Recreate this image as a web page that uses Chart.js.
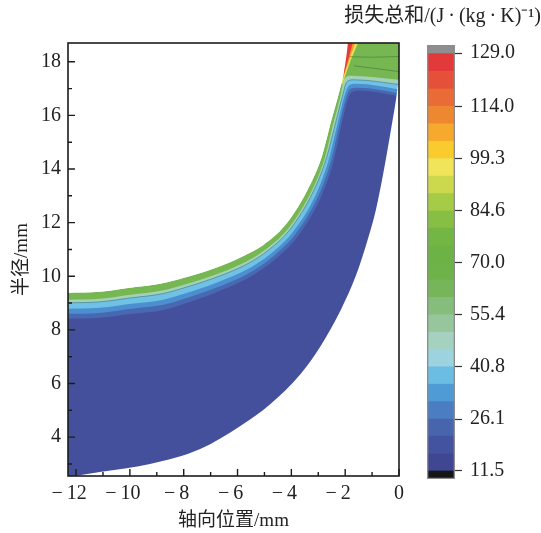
<!DOCTYPE html>
<html><head><meta charset="utf-8">
<script src="https://cdn.jsdelivr.net/npm/chart.js@4.4.1/dist/chart.umd.min.js"></script>
<style>
html,body{margin:0;padding:0;background:#fff;}
#wrap{position:relative;width:541px;height:533px;background:#fff;}
#wrap canvas{position:absolute;left:0;top:0;}
</style></head><body>
<div id="wrap"><canvas id="main" width="541" height="533"></canvas><canvas id="cbar" width="541" height="533"></canvas></div>
<script>
// ---------- axis ticks ----------
const xTicks = [-12, -10, -8, -6, -4, -2, 0];
const xTickLabels = ['\u2212\u200912\u2002\u2009', '\u2212\u200910\u2002\u2009', '\u2212\u20098\u2002\u2009', '\u2212\u20096\u2002\u2009', '\u2212\u20094\u2002\u2009', '\u2212\u20092\u2002\u2009', '0'];
const xMinor = [-11, -9, -7, -5, -3, -1];
const yTicks = [4, 6, 8, 10, 12, 14, 16, 18];
const yTickLabels = ['4', '6', '8', '10', '12', '14', '16', '18'];
const yMinor = [3, 5, 7, 9, 11, 13, 15, 17];

// ---------- contour boundaries (axial mm, radius mm) ----------
const shroudX = [-12.35, -11.12, -10.00, -8.88, -7.99, -7.01, -5.78, -5.04, -4.25, -3.40, -2.87, -2.54, -2.20, -2.05, -1.90, -1.86, 0.2];
const shroudY = [9.38, 9.42, 9.57, 9.72, 9.94, 10.24, 10.76, 11.17, 11.88, 13.22, 14.46, 15.72, 16.96, 17.59, 18.71, 19.3, 19.3];
const bX = [-12.35, -11.119, -9.974, -8.843, -7.922, -6.944, -5.690, -4.925, -4.119, -3.257, -2.761, -2.444, -2.164, -2.052, -1.791, 0.2];
const bY = [9.119, 9.157, 9.306, 9.455, 9.698, 10.015, 10.537, 11.023, 11.780, 13.164, 14.399, 15.687, 16.769, 17.328, 17.478, 17.31];
const cX = [-12.35, -11.119, -9.963, -8.825, -7.896, -6.914, -5.649, -4.877, -4.060, -3.198, -2.705, -2.369, -2.090, -1.940, -1.679, 0.2];
const cY = [9.007, 9.045, 9.194, 9.343, 9.597, 9.918, 10.455, 10.956, 11.735, 13.138, 14.381, 15.668, 16.769, 17.254, 17.328, 17.13];
const dX = [-12.35, -11.119, -9.940, -8.791, -7.843, -6.854, -5.567, -4.780, -3.944, -3.075, -2.612, -2.295, -2.015, -1.866, -1.604, 0.2];
const dY = [8.784, 8.821, 8.970, 9.119, 9.392, 9.727, 10.295, 10.829, 11.649, 13.075, 14.343, 15.649, 16.769, 17.104, 17.179, 16.94];
const eX = [-12.35, -11.119, -9.922, -8.761, -7.799, -6.802, -5.500, -4.698, -3.847, -2.978, -2.519, -2.220, -1.940, -1.791, -1.530, 0.2];
const eY = [8.597, 8.634, 8.784, 8.933, 9.216, 9.567, 10.161, 10.721, 11.575, 13.037, 14.325, 15.631, 16.731, 16.993, 17.030, 16.79];
const fX = [-12.35, -11.119, -9.903, -8.735, -7.754, -6.754, -5.433, -4.619, -3.750, -2.877, -2.425, -2.146, -1.866, -1.716, -1.455, 0.2];
const fY = [8.410, 8.448, 8.597, 8.746, 9.045, 9.410, 10.026, 10.612, 11.504, 13.000, 14.306, 15.612, 16.694, 16.881, 16.918, 16.68];
const hubX = [-12.388, -12.052, -11.119, -9.254, -7.388, -5.896, -4.776, -3.657, -2.910, -2.164, -1.604, -1.231, -0.858, -0.560, -0.299, -0.112, -0.037, 0.3];
const hubY = [2.478, 2.552, 2.701, 3.000, 3.560, 4.418, 5.239, 6.358, 7.403, 8.746, 10.015, 11.134, 12.478, 13.970, 15.463, 16.582, 17.142, 19.3];
const s1X = [-2.07, -1.88, -1.72, -1.70];
const s1Y = [17.45, 18.10, 18.71, 19.3];
const s2X = [-2.10, -1.84, -1.62, -1.60];
const s2Y = [17.30, 18.10, 18.71, 19.3];
const s3X = [-2.13, -1.80, -1.52, -1.50];
const s3Y = [17.10, 18.05, 18.71, 19.3];
const g1X = [-1.85, -1.0, 0.1];
const g1Y = [18.19, 18.17, 18.20];
const g2X = [-1.68, -0.8, 0.1];
const g2Y = [17.85, 17.74, 17.62];

// ---------- colour bar ----------
const cbEdges = [11.5, 16.4, 21.3, 26.1, 31.0, 35.9, 40.8, 45.7, 50.5, 55.4, 60.3, 65.2, 70.0, 74.9, 79.8, 84.6, 89.5, 94.4, 99.3, 104.2, 109.1, 114.0, 118.9, 123.8, 129.0];
const cbColors = ['#3f4793', '#44539f', '#4764ad', '#4a7dc2', '#4f9bd6', '#6cbde3', '#9dd3df', '#a5d2c0', '#97c69c', '#86bd7d', '#76b55a', '#6db349',
                  '#6cb244', '#74b644', '#87bf44', '#a6cb46', '#cdd94c', '#efe45a', '#f9cb2c', '#f6a92c', '#ee8830', '#e96b35', '#e5503a', '#e2393a'];
const cbTicks = [11.5, 26.1, 40.8, 55.4, 70.0, 84.6, 99.3, 114.0, 129.0];
const cbTickLabels = ['11.5', '26.1', '40.8', '55.4', '70.0', '84.6', '99.3', '114.0', '129.0'];
const cbOver = [129.0, 131.25];
const cbUnder = [9.25, 11.5];

const FAM = "'Liberation Serif', 'Noto Sans CJK SC', serif";
const pts = (xs, ys) => xs.map((v, i) => ({x: v, y: ys[i]}));

function area(xs, ys, color, fill, smooth) {
  const d = {data: pts(xs, ys), showLine: true, pointRadius: 0, borderWidth: 1, borderColor: 'rgba(0,0,0,0)',
          backgroundColor: color, fill: fill};
  if (smooth) d.cubicInterpolationMode = 'monotone';
  return d;
}
function line(xs, ys, color, w) {
  return {data: pts(xs, ys), showLine: true, pointRadius: 0, borderWidth: w, borderColor: color, fill: false, cubicInterpolationMode: 'monotone'};
}

const framePlugin = {
  id: 'frame',
  afterDraw(chart) {
    const {ctx, chartArea: a, scales: {x, y}} = chart;
    ctx.save();
    ctx.strokeStyle = '#1c1c1c';
    ctx.lineWidth = 1.6;
    ctx.strokeRect(a.left, a.top, a.right - a.left, a.bottom - a.top);
    ctx.lineWidth = 1.4;
    ctx.beginPath();
    xTicks.forEach(v => { const p = x.getPixelForValue(v); ctx.moveTo(p, a.bottom); ctx.lineTo(p, a.bottom - 7); });
    xMinor.forEach(v => { const p = x.getPixelForValue(v); ctx.moveTo(p, a.bottom); ctx.lineTo(p, a.bottom - 4); });
    yTicks.forEach(v => { const p = y.getPixelForValue(v); ctx.moveTo(a.left, p); ctx.lineTo(a.left + 7, p); });
    yMinor.forEach(v => { const p = y.getPixelForValue(v); ctx.moveTo(a.left, p); ctx.lineTo(a.left + 4, p); });
    ctx.stroke();
    ctx.restore();
  }
};

new Chart(document.getElementById('main'), {
  type: 'scatter',
  data: {datasets: [
    line(cX, cY, 'rgba(30,80,90,0.45)', 0.9),
    line(g1X, g1Y, 'rgba(40,90,50,0.45)', 0.9),
    line(g2X, g2Y, 'rgba(40,90,50,0.45)', 0.9),
    area(shroudX, shroudY, '#ffffff', 'end', true),
    area(s1X, s1Y, '#e33b35', 'end', false),
    area(s2X, s2Y, '#f29a2e', 'end', false),
    area(s3X, s3Y, '#e9df52', 'end', false),
    area(hubX, hubY, '#ffffff', 'start', true),
    area(fX, fY, '#44509b', 'start', true),
    area(eX, eY, '#4868b1', 'start', true),
    area(dX, dY, '#4b8fd0', 'start', true),
    area(cX, cY, '#6fc2e5', 'start', true),
    area(bX, bY, '#a2d1b6', 'start', true),
    area(shroudX, shroudY, '#76b752', 'start', true)
  ]},
  options: {
    responsive: false, animation: false,
    layout: {padding: {top: 43, right: 142, bottom: 0, left: 0}},
    plugins: {legend: {display: false}, tooltip: {enabled: false}},
    scales: {
      x: {type: 'linear', min: -12.3, max: 0,
        afterBuildTicks: s => { s.ticks = xTicks.map(v => ({value: v})); },
        afterFit: s => { s.height = 57; },
        ticks: {callback: (v, i) => xTickLabels[i], autoSkip: false, maxRotation: 0, padding: 6,
                font: {family: FAM, size: 20}, color: '#222'},
        grid: {display: false, drawTicks: false}, border: {display: false},
        title: {display: true, text: '轴向位置/mm', font: {family: FAM, size: 19}, color: '#222', padding: {top: 0, bottom: 1}}
      },
      y: {type: 'linear', min: 2.55, max: 18.7,
        afterBuildTicks: s => { s.ticks = yTicks.map(v => ({value: v})); },
        afterFit: s => { s.width = 68; },
        ticks: {callback: (v, i) => yTickLabels[i], autoSkip: false, padding: 7,
                font: {family: FAM, size: 20}, color: '#222'},
        grid: {display: false, drawTicks: false}, border: {display: false},
        title: {display: true, text: '半径/mm', font: {family: FAM, size: 19}, color: '#222', padding: {top: 11, bottom: 0}}
      }
    }
  },
  plugins: [framePlugin]
});

const common = {grouped: false, barPercentage: 1, categoryPercentage: 1, yAxisID: 'y', xAxisID: 'x'};
const bandSets = cbColors.map((c, i) => Object.assign({data: [[cbEdges[i], cbEdges[i + 1]]], backgroundColor: c, borderWidth: 0, order: 2}, common));
new Chart(document.getElementById('cbar'), {
  type: 'bar',
  data: {labels: [''], datasets: [
    Object.assign({data: [[cbUnder[0], cbOver[1]]], backgroundColor: 'rgba(0,0,0,0)', borderColor: '#8c8c8c', borderWidth: 1, borderSkipped: false, order: 0}, common),
    Object.assign({data: [cbOver], backgroundColor: '#8e8e8e', borderWidth: 0, order: 1}, common),
    Object.assign({data: [cbUnder], backgroundColor: '#161616', borderWidth: 0, order: 1}, common),
    ...bandSets
  ]},
  options: {
    responsive: false, animation: false,
    layout: {padding: {top: 0, right: 0, bottom: 54, left: 0}},
    plugins: {legend: {display: false}, tooltip: {enabled: false},
      title: {display: true, text: '损失总和/(J\u2009·\u2009(kg\u2009·\u2009K)⁻¹)', align: 'end', color: '#222',
              font: {family: FAM, size: 20, weight: 'normal'}, padding: {top: 5, bottom: 16}}},
    scales: {
      x: {display: false},
      yl: {type: 'linear', position: 'left', display: true, ticks: {display: false}, grid: {display: false, drawTicks: false},
           border: {display: false}, afterFit: s => { s.width = 427; }},
      y: {type: 'linear', position: 'right', min: cbUnder[0], max: cbOver[1],
        afterBuildTicks: s => { s.ticks = cbTicks.map(v => ({value: v})); },
        afterFit: s => { s.width = 86; },
        ticks: {callback: (v, i) => cbTickLabels[i], autoSkip: false, padding: 8, font: {family: FAM, size: 20}, color: '#222'},
        grid: {display: true, drawOnChartArea: false, drawTicks: true, tickLength: 7, tickColor: '#333', tickWidth: 1.2, color: 'rgba(0,0,0,0)'},
        border: {display: false}
      }
    }
  }
});
</script>
</body></html>
